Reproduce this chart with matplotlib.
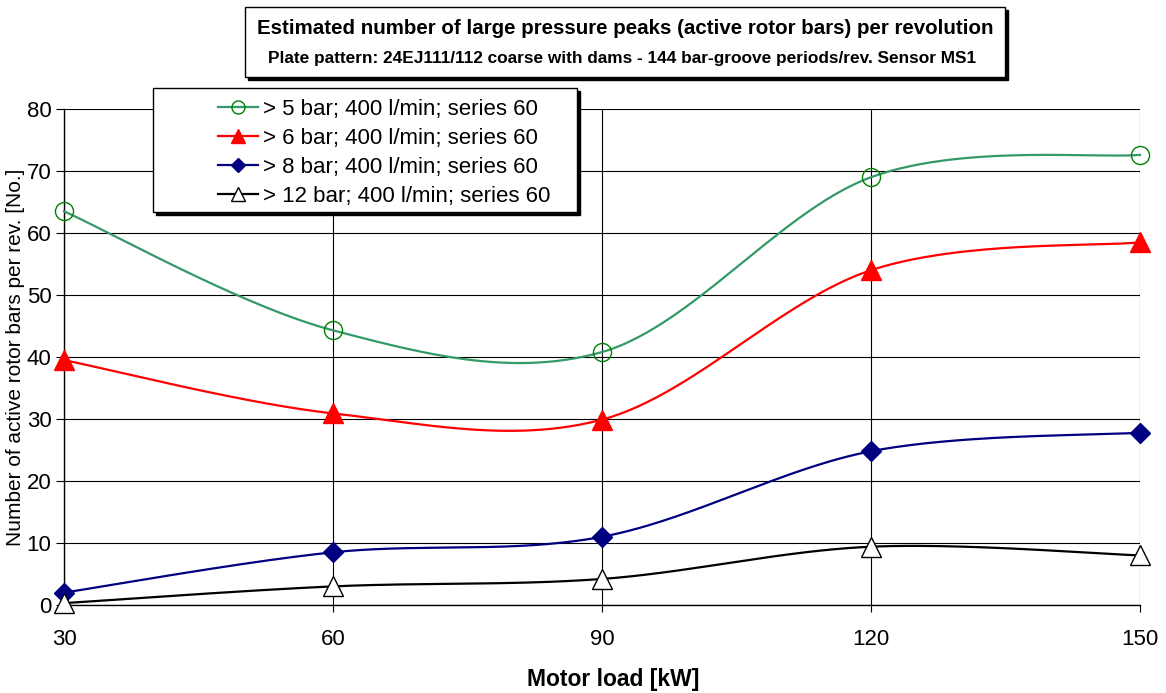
import numpy as np
import matplotlib.pyplot as plt
from matplotlib.patches import Rectangle
from matplotlib.lines import Line2D

plt.rcParams['font.family'] = ['Liberation Sans', 'DejaVu Sans']

# Dati
load_kw = [30, 60, 90, 120, 150]
peaks_5bar = [63.5, 44.3, 40.8, 69.0, 72.6]
peaks_6bar = [39.5, 30.9, 29.9, 54.0, 58.5]
peaks_8bar = [2.0, 8.5, 11.0, 24.8, 27.8]
peaks_12bar = [0.3, 3.0, 4.2, 9.4, 8.0]

labels = ["> 5 bar; 400 l/min; series 60",
          "> 6 bar; 400 l/min; series 60",
          "> 8 bar; 400 l/min; series 60",
          "> 12 bar; 400 l/min; series 60"]

title = "Estimated number of large pressure peaks (active rotor bars) per revolution"
subtitle = "Plate pattern: 24EJ111/112 coarse with dams - 144 bar-groove periods/rev. Sensor MS1"


def smooth(x, y, n=60):
    # curva "smoothed" tipo Excel (Catmull-Rom -> Bezier)
    p = np.column_stack([x, y]).astype(float)
    p = np.vstack([p[0], p, p[-1]])
    t = np.linspace(0, 1, n)[:, None]
    out = []
    for i in range(1, len(p) - 2):
        p0, p1, p2, p3 = p[i - 1], p[i], p[i + 1], p[i + 2]
        c1 = p1 + (p2 - p0) / 6
        c2 = p2 - (p3 - p1) / 6
        seg = ((1 - t) ** 3) * p1 + 3 * ((1 - t) ** 2) * t * c1 + 3 * (1 - t) * t ** 2 * c2 + t ** 3 * p2
        out.append(seg)
    out = np.vstack(out)
    return out[:, 0], out[:, 1]


fig = plt.figure(figsize=(11.66, 6.93), dpi=100)
ax = fig.add_axes([0.0549, 0.127, 0.9228, 0.7157])

styles = [
    dict(color="#339966", marker="o", ms=13, mfc="none", mec="#008000", mew=1.0),
    dict(color="#ff0000", marker="^", ms=14, mfc="#ff0000", mec="#ff0000", mew=1.0),
    dict(color="#000080", marker="D", ms=10, mfc="#000080", mec="#000080", mew=1.0),
    dict(color="black", marker="^", ms=14, mfc="white", mec="black", mew=1.0),
]
series = [peaks_5bar, peaks_6bar, peaks_8bar, peaks_12bar]

for vals, st in zip(series, styles):
    xs, ys = smooth(load_kw, vals)
    ax.plot(xs, ys, color=st["color"], lw=1.6, zorder=3, clip_on=False)
    ax.plot(load_kw, vals, ls="none", marker=st["marker"], ms=st["ms"],
            mfc=st["mfc"], mec=st["mec"], mew=st["mew"], zorder=4, clip_on=False)

ax.set_xlim(30, 150)
ax.set_ylim(0, 80)
ax.set_xticks(load_kw)
ax.set_yticks(range(0, 81, 10))
ax.grid(True, color="black", lw=0.8)
ax.set_axisbelow(True)
for s in ["top", "right"]:
    ax.spines[s].set_visible(False)
ax.spines["left"].set_linewidth(1.0)
ax.spines["bottom"].set_linewidth(1.0)
ax.tick_params(axis="x", direction="out", length=5, pad=12, labelsize=16)
ax.tick_params(axis="y", direction="out", length=6, pad=3, labelsize=16)
ax.set_xlabel("Motor load [kW]", fontsize=16.5, fontweight="bold")
ax.set_ylabel("Number of active rotor bars per rev. [No.]", fontsize=15)
ax.xaxis.set_label_coords((613 - 64) / 1076, -(668 - 605) / 496)
ax.yaxis.set_label_coords(-(64 - 25) / 1076, 0.5)

# riquadro titolo con ombra
W, H = 1166, 693
def box(x0, y0, x1, y1):
    sh = Rectangle(((x0 + 3) / W, 1 - (y1 + 3) / H), (x1 - x0) / W, (y1 - y0) / H,
                   transform=fig.transFigure, facecolor="black", edgecolor="black", zorder=5)
    bx = Rectangle((x0 / W, 1 - y1 / H), (x1 - x0) / W, (y1 - y0) / H,
                   transform=fig.transFigure, facecolor="white", edgecolor="black", lw=1.0, zorder=6)
    fig.add_artist(sh)
    fig.add_artist(bx)

box(245, 7, 1005, 77)
fig.text(625 / W, 1 - 28 / H, title, ha="center", va="center", fontsize=14.8, fontweight="bold", zorder=7)
fig.text(622 / W, 1 - 58 / H, subtitle, ha="center", va="center", fontsize=12.4, fontweight="bold", zorder=7)

# legenda
box(153, 88, 577, 212)
handles = [Line2D([], [], color=st["color"], lw=1.6, marker=st["marker"], ms=st["ms"] * 0.72,
                  mfc=st["mfc"], mec=st["mec"]) for st in styles]
leg = fig.legend(handles, labels, loc="upper left", bbox_to_anchor=(211 / W, 1 - 92 / H),
                 frameon=False, fontsize=16, handlelength=1.8, handletextpad=0.22,
                 labelspacing=0.36, borderpad=0.3, borderaxespad=0)
leg.set_zorder(7)

fig.savefig("out.png", dpi=100)
